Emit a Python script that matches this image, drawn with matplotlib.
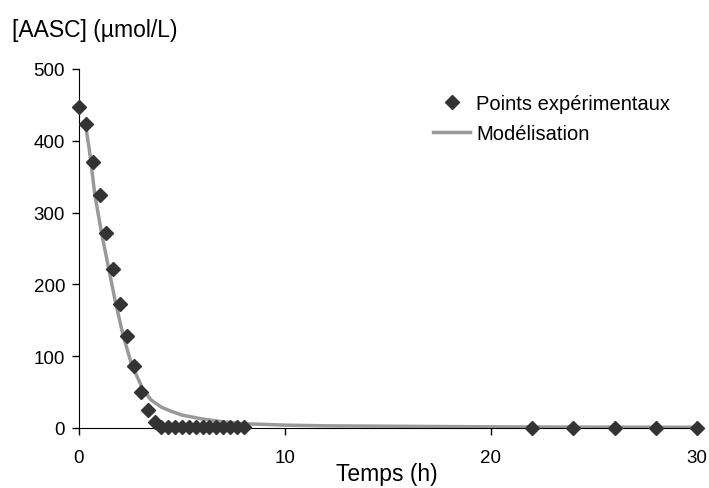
import matplotlib
matplotlib.use("Agg")
import matplotlib.pyplot as plt
import numpy as np

plt.rcParams['font.family'] = ['Liberation Sans', 'DejaVu Sans']

# experimental points (every 20 min up to 8 h, then 22-30 h)
t_exp = [0, 1/3, 2/3, 1, 4/3, 5/3, 2, 7/3, 8/3, 3, 10/3, 11/3,
         4, 13/3, 14/3, 5, 16/3, 17/3, 6, 19/3, 20/3, 7, 22/3, 23/3, 8,
         22, 24, 26, 28, 30]
c_exp = [447, 423, 370, 324, 271, 221, 172, 128, 86, 50, 25, 9,
         2, 1, 1, 1, 1, 1, 1, 1, 1, 1, 1, 1, 1,
         0, 0, 0, 0, 0]

# model curve
t_mod = [0.33, 0.5, 0.78, 1.1, 1.45, 1.75, 2.15, 2.56, 3.12, 3.5, 4.0, 4.5,
         5.0, 6.0, 7.0, 8.0, 10, 12, 15, 20, 25, 30]
c_mod = [420, 388, 323, 271, 221, 178, 128, 88, 53, 39, 29, 23,
         18, 12.5, 8.5, 6, 4, 3, 2.5, 1.6, 1.2, 1]

fig = plt.figure(figsize=(7.09, 4.89), dpi=100)
ax = fig.add_axes([0.1114, 0.1227, 0.8716, 0.7343])

ax.plot(t_mod, c_mod, color='#999999', lw=2.5, label='Modélisation', zorder=2)
ax.plot(t_exp, c_exp, 'D', color='#333333', ms=7.2, ls='none',
        label='Points expérimentaux', clip_on=False, zorder=3)

ax.set_xlim(0, 30)
ax.set_ylim(0, 500)
ax.set_xticks([0, 10, 20, 30])
ax.set_yticks([0, 100, 200, 300, 400, 500])
ax.spines['top'].set_visible(False)
ax.spines['right'].set_visible(False)
ax.tick_params(labelsize=13.5, direction='out', length=5, width=1, colors='black')
ax.tick_params(axis='x', pad=10)
ax.tick_params(axis='y', pad=5)

fig.text(387/709, 1 - 475/489, 'Temps (h)', fontsize=16.5, ha='center', va='center')
fig.text(12/709, 1 - 31/489, '[AASC] (µmol/L)', fontsize=16.5, ha='left', va='center')

h, l = ax.get_legend_handles_labels()
ax.legend(h[::-1], l[::-1], loc='upper left',
          bbox_to_anchor=(433/709, 1 - 95/489), bbox_transform=fig.transFigure,
          frameon=False, fontsize=14.5, handlelength=1.84, handletextpad=0.3,
          labelspacing=0.55, borderpad=0, borderaxespad=0)

fig.savefig('out.png', dpi=100)
